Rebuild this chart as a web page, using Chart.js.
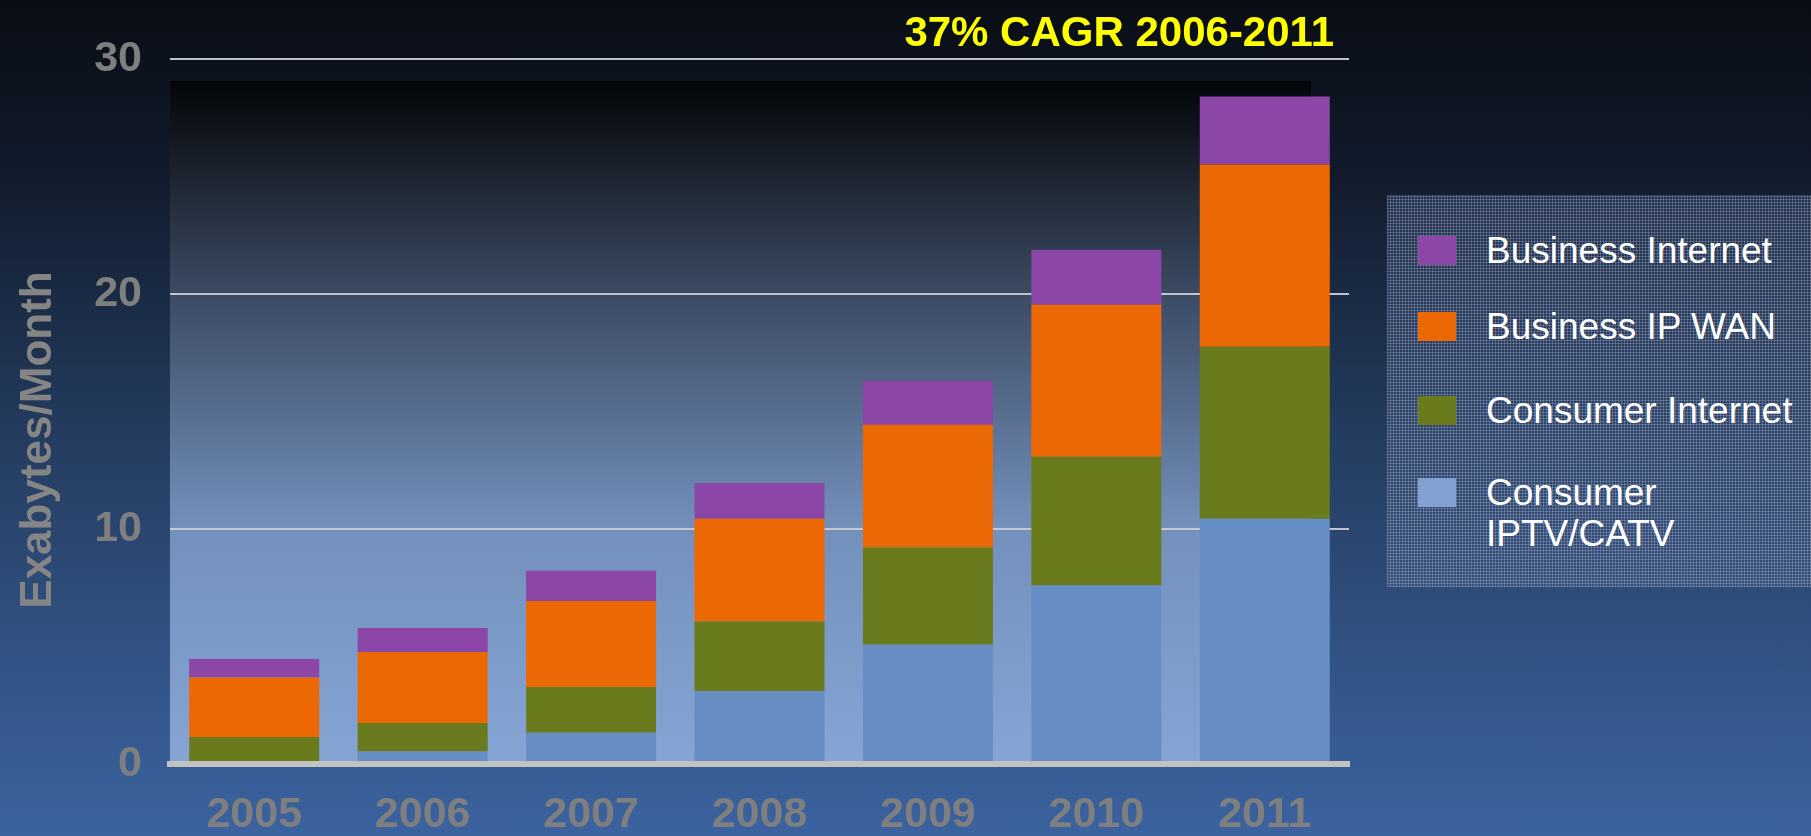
<!DOCTYPE html>
<html>
<head>
<meta charset="utf-8">
<script src="https://cdn.jsdelivr.net/npm/chart.js@4.4.1/dist/chart.umd.min.js"></script>
<style>
  html, body { margin: 0; padding: 0; }
  body {
    width: 1811px; height: 836px; overflow: hidden; position: relative;
    background: linear-gradient(180deg, #090d14 0%, #111a2b 20%, #233a5c 50%, #30507f 75%, #3b63a0 100%);
    font-family: "Liberation Sans", Arial, sans-serif;
  }
  #chart { position: absolute; left: 0; top: 0; }
  #headline {
    position: absolute; right: 477px; top: 11px;
    font: bold 42px/42px "Liberation Sans", Arial, sans-serif;
    color: #ffff00; white-space: nowrap;
  }
  #legend {
    position: absolute; left: 1387px; top: 195px; width: 424px; height: 392px;
    background:
      repeating-linear-gradient(90deg, rgba(225,230,240,0.22) 0 1px, transparent 1px 3px),
      repeating-linear-gradient(0deg, rgba(225,230,240,0.22) 0 1px, transparent 1px 3px),
      linear-gradient(180deg, #22314e 0%, #344f7c 100%);
  }
  .row { position: absolute; left: 31px; display: flex; align-items: flex-start; }
  .sw { width: 38px; height: 29px; flex: none; }
  .lbl {
    margin-left: 30px; margin-top: -6px; max-width: 320px;
    color: #fff; font: 37px/41px "Liberation Sans", Arial, sans-serif;
  }
</style>
</head>
<body>
<canvas id="chart" width="1811" height="836"></canvas>
<div id="headline"></div>
<div id="legend"></div>
<script>
// data (Exabytes per month)
const years = ["2005", "2006", "2007", "2008", "2009", "2010", "2011"];
const consumerIptv     = [0,    0.54, 1.34, 3.12, 5.08, 7.60, 10.44];
const consumerInternet = [1.16, 1.22, 1.95, 2.95, 4.14, 5.48, 7.32];
const businessWan      = [2.53, 3.02, 3.66, 4.37, 5.22, 6.47, 7.75];
const businessInternet = [0.79, 1.02, 1.28, 1.53, 1.87, 2.34, 2.89];
const yTicks = [0, 10, 20, 30];
const seriesNames = ["Consumer IPTV/CATV", "Consumer Internet", "Business IP WAN", "Business Internet"];
const yTitle = "Exabytes/Month";
const headline = "37% CAGR 2006-2011";

const colors = ["#678ec4", "#6a7b1e", "#ec6804", "#8b46a8"];
const legendColors = ["#82a1d0", "#6a7b1e", "#ec6804", "#8b46a8"];
const tickFont = { family: "'Liberation Sans Narrow', 'Arial Narrow', 'Liberation Sans', sans-serif", size: 43, weight: "bold", lineHeight: 1 };

document.getElementById("headline").textContent = headline;

// legend, top row = top of the stack
const legend = document.getElementById("legend");
const rowTops = [41, 117, 201, 283];
[3, 2, 1, 0].forEach((idx, i) => {
  const row = document.createElement("div");
  row.className = "row";
  row.style.top = rowTops[i] + "px";
  const sw = document.createElement("div");
  sw.className = "sw";
  sw.style.background = legendColors[idx];
  const lbl = document.createElement("div");
  lbl.className = "lbl";
  lbl.textContent = seriesNames[idx];
  row.appendChild(sw);
  row.appendChild(lbl);
  legend.appendChild(row);
});

// shaded panel behind the bars
const plotBox = {
  id: "plotBox",
  beforeDraw(chart) {
    const { ctx, chartArea: a } = chart;
    const top = a.top + 22;
    const right = a.right - 38;
    const g = ctx.createLinearGradient(0, top, 0, a.bottom);
    g.addColorStop(0, "#030508");
    g.addColorStop(0.3, "#3a4860");
    g.addColorStop(0.65, "#7390bb");
    g.addColorStop(1, "#86a5d5");
    ctx.save();
    ctx.fillStyle = g;
    ctx.fillRect(a.left, top, right - a.left, a.bottom - top);
    ctx.restore();
  }
};

// rotated axis title
const axisTitle = {
  id: "axisTitle",
  afterDraw(chart) {
    const { ctx } = chart;
    ctx.save();
    ctx.translate(51, 440);
    ctx.rotate(-Math.PI / 2);
    ctx.font = "bold 44px 'Liberation Sans', Arial, sans-serif";
    ctx.fillStyle = "#858585";
    ctx.textAlign = "center";
    ctx.textBaseline = "alphabetic";
    ctx.fillText(yTitle, 0, 0);
    ctx.restore();
  }
};

new Chart(document.getElementById("chart"), {
  type: "bar",
  data: {
    labels: years,
    datasets: [
      { label: seriesNames[0], data: consumerIptv, backgroundColor: colors[0] },
      { label: seriesNames[1], data: consumerInternet, backgroundColor: colors[1] },
      { label: seriesNames[2], data: businessWan, backgroundColor: colors[2] },
      { label: seriesNames[3], data: businessInternet, backgroundColor: colors[3] }
    ]
  },
  options: {
    responsive: false,
    animation: false,
    datasets: { bar: { categoryPercentage: 1, barPercentage: 0.772, borderWidth: 0 } },
    layout: { padding: { top: 59, right: 462, bottom: 0, left: 0 } },
    plugins: { legend: { display: false }, tooltip: { enabled: false } },
    scales: {
      x: {
        stacked: true,
        grid: { display: false, drawTicks: false },
        border: { display: true, color: "#c2c2c2", width: 6, z: 1 },
        ticks: { color: "#7f7f7f", font: tickFont, padding: 29 },
        afterFit: s => { s.height = 71.7; }
      },
      y: {
        stacked: true,
        min: yTicks[0],
        max: yTicks[yTicks.length - 1],
        afterBuildTicks: s => { s.ticks = yTicks.map(v => ({ value: v })); },
        grid: { color: "rgba(200,204,210,0.95)", lineWidth: 2, drawTicks: false },
        border: { display: false },
        ticks: { color: "#7f7f7f", font: tickFont, padding: 28 },
        afterFit: s => { s.width = 170; }
      }
    }
  },
  plugins: [plotBox, axisTitle]
});
</script>
</body>
</html>
